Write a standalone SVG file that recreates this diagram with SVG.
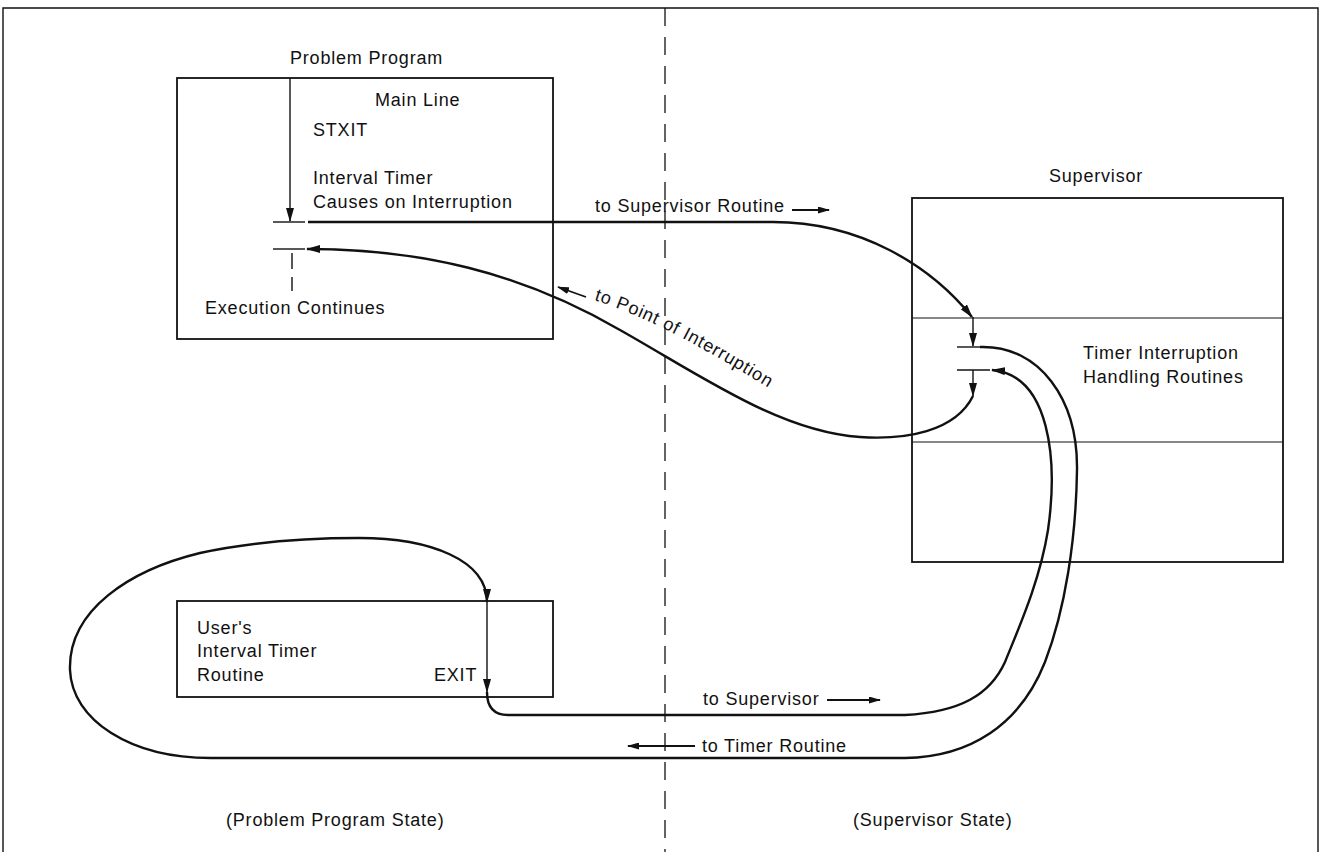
<svg xmlns="http://www.w3.org/2000/svg" width="1320" height="852" viewBox="0 0 1320 852">
<defs>
<style>
.frame{fill:none;stroke:#111;stroke-width:1.4}
.box{fill:none;stroke:#111;stroke-width:1.8}
.div{fill:none;stroke:#111;stroke-width:1.2}
.conn{fill:none;stroke:#111;stroke-width:2.4}
.thin{fill:none;stroke:#111;stroke-width:1.4}
.lab{fill:none;stroke:#111;stroke-width:1.8}
.dash{fill:none;stroke:#111;stroke-width:1.3;stroke-dasharray:18 11}
text{font-family:"Liberation Sans",Arial,sans-serif;font-size:18px;fill:#111;letter-spacing:0.8px}
</style>
<marker id="ah" viewBox="0 0 14 8" refX="13" refY="4" markerWidth="14" markerHeight="8" markerUnits="userSpaceOnUse" orient="auto"><path d="M0,0 L14,4 L0,8 Z" fill="#111"/></marker>
<marker id="ahs" viewBox="0 0 12 7" refX="11" refY="3.5" markerWidth="12" markerHeight="7" markerUnits="userSpaceOnUse" orient="auto"><path d="M0,0 L12,3.5 L0,7 Z" fill="#111"/></marker>
<path id="tp" d="M594 300 C650 318 705 348 795 404"/>
</defs>
<rect width="1320" height="852" fill="#fff"/>
<g id="frame">
<path class="frame" d="M3 852 V8 H1318 V852"/>
<line class="dash" x1="665" y1="8" x2="665" y2="852"/>
<text x="226" y="826">(Problem Program State)</text>
<text x="853" y="826">(Supervisor State)</text>
</g>
<g id="problem-program">
<text x="290" y="64">Problem Program</text>
<rect class="box" x="177" y="78" width="376" height="261"/>
<text x="375" y="106">Main Line</text>
<text x="313" y="136">STXIT</text>
<text x="313" y="184">Interval Timer</text>
<text x="313" y="208">Causes on Interruption</text>
<line class="thin" x1="290" y1="78" x2="290" y2="221" marker-end="url(#ah)"/>
<line class="thin" x1="273" y1="222" x2="305" y2="222"/>
<line class="thin" x1="273" y1="249" x2="305" y2="249"/>
<line class="thin" x1="292" y1="253" x2="292" y2="291" style="stroke-dasharray:16 8"/>
<text x="205" y="314">Execution Continues</text>
</g>
<g id="supervisor">
<text x="1049" y="182">Supervisor</text>
<rect class="box" x="912" y="198" width="371" height="364"/>
<line class="div" x1="912" y1="318" x2="1283" y2="318"/>
<line class="div" x1="912" y1="442" x2="1283" y2="442"/>
<line class="thin" x1="957" y1="347" x2="982" y2="347"/>
<line class="thin" x1="957" y1="370" x2="990" y2="370"/>
<text x="1083" y="359">Timer Interruption</text>
<text x="1083" y="383">Handling Routines</text>
</g>
<g id="user-routine">
<rect class="box" x="177" y="601" width="376" height="96"/>
<text x="197" y="634">User's</text>
<text x="197" y="657">Interval Timer</text>
<text x="197" y="681">Routine</text>
<text x="434" y="681">EXIT</text>
</g>
<g id="connectors">
<path class="conn" d="M308 222 H773 C860 222 930 265 972 317" marker-end="url(#ah)"/>
<line class="thin" x1="973" y1="317" x2="973" y2="346" marker-end="url(#ah)"/>
<line class="thin" x1="973" y1="370" x2="973" y2="396" marker-end="url(#ah)"/>
<path class="conn" d="M973 396 C955 432 905 440 860 437 C780 432 700 375 620 330 C520 272 420 249 307 249" marker-end="url(#ah)"/>
<path class="conn" d="M980 347 C1040 345 1078 400 1077 470 C1076 540 1065 610 1045 662 C1020 725 970 757 905 758 H211 C130 758 72 720 70 670 C68 610 130 570 200 553 C260 540 320 538 359 538 C430 538 487 560 487 602" marker-end="url(#ah)"/>
<line class="thin" x1="487" y1="602" x2="487" y2="692" marker-end="url(#ah)"/>
<path class="conn" d="M487 692 Q487 715 508 715 H905 C960 712 990 695 1005 662 C1020 625 1040 580 1048 530 C1058 460 1050 375 992 370" marker-end="url(#ah)"/>
<text x="595" y="212">to Supervisor Routine</text>
<line class="lab" x1="792" y1="210" x2="829" y2="210" marker-end="url(#ahs)"/>
<text x="703" y="705">to Supervisor</text>
<line class="lab" x1="827" y1="700" x2="880" y2="700" marker-end="url(#ahs)"/>
<text x="702" y="752">to Timer Routine</text>
<line class="lab" x1="695" y1="746" x2="628" y2="746" marker-end="url(#ahs)"/>
<line class="lab" x1="586" y1="297" x2="558" y2="287" marker-end="url(#ahs)"/>
<text><textPath href="#tp">to Point of Interruption</textPath></text>
</g>
</svg>
